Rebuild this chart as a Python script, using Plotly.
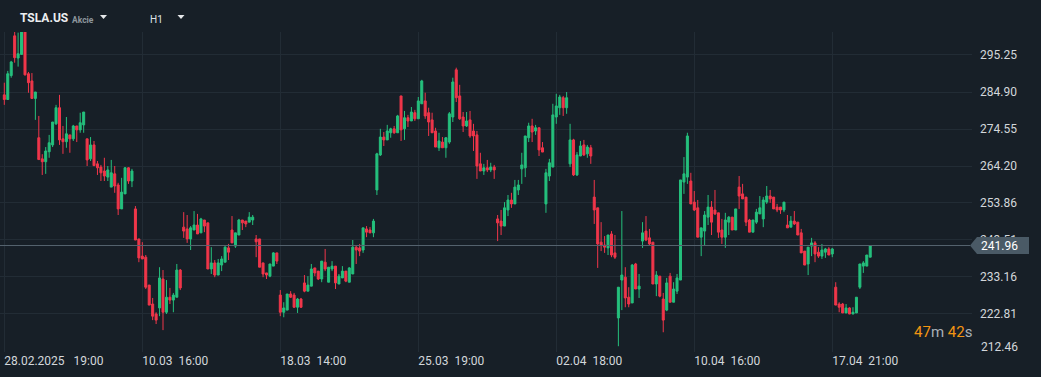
import plotly.graph_objects as go

# ---------------- data ----------------
open_ = [
    284.1, 282.8, 289.5, 300.6, 294.4, 295.4, 302.3, 290.0, 288.0, 283.1,
    272.1, 266.2, 265.4, 268.2, 270.1, 276.0, 280.5, 271.8, 271.0, 272.9,
    271.8, 275.4, 274.3, 275.7, 271.8, 266.2, 270.1, 264.8, 263.9, 262.8,
    261.1, 258.3, 262.0, 258.9, 252.2, 256.4, 263.7, 260.0, 252.2, 243.8,
    239.0, 238.7, 230.9, 225.6, 222.8, 224.5, 232.6, 223.3, 227.5, 226.7,
    227.5, 235.1, 247.1, 246.6, 243.8, 246.3, 247.7, 245.5, 249.1, 248.3,
    235.4, 237.1, 233.7, 236.5, 237.3, 241.3, 246.3, 241.8, 244.9, 249.1,
    248.8, 248.5, 249.1, 243.8, 243.8, 237.1, 234.3, 233.4, 236.2, 239.9,
    228.1, 223.3, 223.9, 228.4, 228.1, 224.7, 227.0, 231.5, 229.2, 230.6,
    235.7, 234.8, 232.6, 237.3, 231.7, 235.4, 236.2, 231.2, 232.9, 234.8,
    231.7, 234.0, 241.5, 241.3, 240.7, 246.6, 246.3, 245.5, 257.5, 267.3,
    272.3, 271.5, 273.5, 274.6, 273.5, 283.8, 274.6, 277.7, 276.8, 279.1,
    277.4, 281.6, 282.4, 279.1, 277.1, 274.0, 269.3, 270.9, 269.3, 270.9,
    277.9, 291.1, 283.8, 277.9, 275.4, 277.1, 274.0, 272.9, 264.8, 262.8,
    263.7, 263.1, 263.9, 249.4, 248.8, 247.4, 251.9, 254.7, 253.6, 257.5,
    263.4, 263.7, 272.1, 275.4, 274.0, 274.9, 269.3, 253.6, 261.4, 263.9,
    277.9, 280.5, 283.3, 280.5, 264.8, 271.5, 261.7, 267.0, 270.1, 267.6,
    269.3, 255.5, 252.5, 242.9, 242.1, 241.3, 245.2, 239.9, 221.7, 232.3,
    233.1, 227.5, 225.9, 236.8, 229.8, 243.2, 246.0, 244.1, 242.9, 231.2,
    233.4, 227.0, 223.9, 233.4, 226.1, 229.2, 232.3, 259.7, 261.1, 260.0,
    254.1, 252.5, 244.3, 246.0, 249.9, 252.7, 251.9, 251.1, 246.3, 244.3,
    248.5, 249.9, 246.3, 258.3, 256.4, 255.5, 249.1, 245.7, 248.5, 250.8,
    249.4, 254.1, 255.8, 255.5, 252.7, 252.7, 251.9, 247.7, 247.1, 248.8,
    248.5, 245.5, 240.4, 236.8, 241.8, 242.7, 240.1, 239.0, 240.1, 241.0,
    239.6, 230.3, 225.6, 225.6, 223.1, 224.5, 222.8, 223.1, 230.3, 236.2,
    236.2, 238.7,
]
high = [
    287.5, 290.8, 293.6, 302.9, 301.5, 303.1, 302.9, 290.5, 290.2, 284.9,
    278.2, 267.5, 269.5, 272.9, 276.5, 281.3, 284.1, 275.4, 277.9, 272.9,
    275.7, 275.4, 279.1, 279.3, 271.8, 272.3, 271.2, 265.6, 264.5, 266.5,
    264.2, 265.9, 264.2, 259.5, 260.9, 263.9, 263.9, 263.4, 253.0, 243.8,
    242.9, 239.3, 230.9, 227.3, 223.3, 235.9, 235.1, 232.3, 230.1, 228.7,
    236.8, 235.4, 251.3, 250.5, 247.4, 251.6, 250.8, 249.7, 249.1, 248.3,
    241.5, 237.9, 238.2, 239.0, 241.8, 242.4, 250.2, 245.5, 249.4, 249.1,
    248.8, 251.3, 250.5, 244.9, 243.8, 237.1, 234.3, 236.8, 240.1, 239.9,
    229.5, 226.1, 228.4, 229.2, 228.7, 227.3, 227.3, 233.7, 233.4, 236.8,
    235.7, 234.8, 237.6, 241.0, 235.9, 237.6, 236.2, 234.0, 236.2, 234.8,
    235.9, 243.5, 242.1, 242.4, 246.9, 247.4, 247.1, 249.4, 267.9, 274.6,
    273.7, 275.7, 274.9, 275.4, 278.5, 283.8, 279.6, 278.5, 280.7, 279.9,
    283.5, 288.3, 284.7, 280.5, 279.1, 274.9, 273.5, 272.3, 272.3, 279.3,
    288.9, 291.7, 286.9, 279.3, 279.3, 279.6, 276.0, 274.0, 267.9, 264.8,
    265.9, 265.1, 264.5, 250.5, 251.9, 254.1, 256.1, 256.7, 260.3, 260.3,
    267.9, 272.6, 276.3, 277.4, 275.7, 274.9, 270.9, 263.4, 266.2, 281.6,
    284.4, 284.1, 283.8, 284.9, 276.0, 271.8, 268.1, 271.2, 271.5, 270.1,
    270.1, 260.3, 252.5, 248.5, 244.6, 244.9, 246.0, 244.9, 230.3, 251.6,
    235.9, 230.3, 236.8, 237.1, 234.0, 248.5, 250.2, 246.6, 242.9, 234.8,
    233.4, 228.7, 232.9, 234.3, 231.7, 234.0, 260.3, 266.7, 273.5, 262.3,
    257.2, 254.7, 246.9, 251.6, 256.1, 254.4, 257.5, 251.1, 249.4, 251.1,
    250.2, 249.9, 252.2, 261.4, 259.2, 255.5, 249.4, 249.1, 252.2, 255.8,
    255.5, 258.6, 257.5, 255.5, 253.6, 252.7, 254.1, 250.5, 250.2, 251.6,
    248.5, 246.6, 240.4, 241.5, 244.1, 243.2, 241.5, 242.4, 241.3, 241.5,
    241.3, 231.7, 226.1, 225.9, 225.6, 224.7, 224.7, 227.5, 236.8, 237.6,
    239.3, 242.1,
]
low = [
    281.3, 282.8, 288.9, 293.1, 292.0, 295.4, 289.5, 284.7, 283.1, 277.1,
    266.0, 261.7, 262.0, 266.5, 269.5, 275.7, 270.1, 267.6, 269.3, 267.9,
    271.2, 270.9, 273.5, 273.5, 264.2, 265.6, 264.3, 261.7, 260.0, 260.0,
    260.0, 258.3, 256.7, 250.5, 252.2, 256.4, 259.2, 258.3, 243.5, 237.3,
    238.2, 229.8, 225.3, 221.1, 220.0, 222.2, 218.3, 222.8, 225.6, 223.3,
    227.5, 229.5, 244.1, 242.7, 240.7, 246.3, 245.2, 245.5, 245.7, 235.4,
    234.0, 233.1, 233.7, 234.8, 237.3, 237.9, 242.7, 241.3, 244.9, 246.3,
    247.1, 248.5, 247.7, 238.7, 235.9, 233.1, 232.6, 233.1, 236.2, 236.8,
    222.2, 221.9, 223.9, 227.3, 224.5, 223.1, 224.5, 228.9, 229.2, 230.6,
    233.4, 232.3, 231.7, 234.8, 231.7, 234.8, 229.8, 231.2, 232.9, 231.7,
    231.7, 234.0, 236.8, 239.0, 239.9, 244.3, 245.5, 244.3, 256.1, 267.0,
    269.8, 271.5, 272.1, 273.2, 273.5, 271.2, 271.5, 275.1, 276.8, 276.8,
    277.4, 281.6, 277.4, 272.6, 273.5, 269.5, 268.4, 269.3, 266.5, 270.4,
    276.5, 282.1, 277.1, 273.7, 275.1, 272.1, 268.4, 260.6, 262.8, 261.7,
    262.5, 262.5, 260.6, 243.2, 244.9, 247.4, 250.2, 252.5, 253.6, 256.1,
    259.2, 261.1, 270.9, 270.9, 272.9, 267.0, 268.1, 251.1, 260.0, 263.9,
    276.0, 278.5, 278.2, 278.8, 263.9, 261.4, 261.4, 267.0, 267.0, 266.5,
    264.8, 248.0, 235.7, 240.4, 239.9, 239.3, 238.7, 238.2, 213.8, 223.9,
    224.7, 224.7, 225.9, 229.8, 227.3, 241.3, 243.2, 242.1, 231.2, 227.8,
    227.5, 217.7, 223.6, 226.1, 226.1, 228.4, 232.3, 256.4, 259.2, 253.6,
    251.6, 244.3, 239.0, 242.1, 247.7, 244.9, 250.5, 244.1, 242.4, 241.3,
    244.9, 246.3, 246.3, 252.2, 255.0, 247.4, 245.7, 245.7, 248.0, 250.8,
    247.1, 253.6, 253.9, 252.2, 251.3, 250.8, 251.3, 246.9, 247.1, 247.7,
    244.9, 239.9, 236.5, 233.7, 239.0, 237.3, 238.5, 238.2, 238.5, 239.3,
    238.7, 225.3, 223.3, 223.1, 223.1, 222.8, 222.8, 223.1, 229.8, 234.3,
    236.2, 238.7,
]
close = [
    282.8, 290.0, 293.3, 294.5, 295.6, 302.3, 289.7, 287.5, 283.1, 284.9,
    266.0, 265.4, 268.4, 270.7, 276.5, 280.5, 271.5, 271.0, 273.2, 271.8,
    275.4, 274.3, 276.3, 279.3, 265.9, 270.1, 264.3, 263.7, 262.3, 261.4,
    263.1, 262.3, 258.6, 252.2, 256.9, 263.7, 260.0, 262.8, 243.5, 238.5,
    238.2, 230.3, 225.3, 222.2, 221.1, 232.9, 223.3, 227.5, 226.7, 228.1,
    235.1, 230.1, 246.0, 243.8, 246.9, 247.7, 245.2, 249.4, 247.4, 235.4,
    237.1, 233.7, 237.1, 238.2, 241.5, 240.1, 242.7, 245.5, 249.1, 248.3,
    248.0, 249.9, 249.9, 243.0, 235.9, 234.0, 233.7, 236.8, 239.9, 237.6,
    223.3, 224.5, 228.4, 227.5, 224.7, 227.0, 224.7, 229.2, 230.9, 235.4,
    234.3, 232.6, 237.6, 235.4, 235.9, 236.2, 231.5, 233.4, 234.8, 232.0,
    235.7, 241.5, 240.7, 240.4, 246.9, 245.7, 245.5, 248.8, 267.6, 272.3,
    271.5, 274.0, 274.6, 273.5, 278.2, 274.3, 277.7, 276.8, 279.3, 277.4,
    282.4, 288.0, 278.2, 276.5, 273.5, 269.5, 271.2, 269.3, 272.1, 278.8,
    287.7, 283.3, 277.4, 275.4, 276.8, 272.6, 272.6, 264.2, 262.8, 263.7,
    263.1, 263.9, 263.1, 248.3, 247.4, 252.5, 254.7, 253.6, 258.3, 258.9,
    264.5, 272.6, 275.4, 273.7, 274.9, 268.7, 268.1, 262.3, 265.1, 278.5,
    281.0, 283.5, 280.5, 283.3, 271.5, 261.7, 267.3, 269.8, 267.3, 269.5,
    267.0, 251.9, 242.4, 242.1, 241.5, 244.9, 239.3, 238.7, 230.3, 233.7,
    227.3, 225.6, 236.5, 229.8, 230.6, 245.5, 243.5, 242.4, 231.2, 233.7,
    227.8, 221.1, 231.5, 226.1, 229.8, 232.9, 260.3, 262.0, 272.6, 253.6,
    251.9, 244.3, 246.9, 250.5, 252.7, 248.5, 250.8, 245.7, 244.3, 249.1,
    249.9, 246.3, 252.2, 255.8, 255.0, 248.5, 245.7, 249.1, 251.3, 252.5,
    254.7, 255.8, 255.0, 252.2, 251.9, 251.9, 254.1, 246.9, 248.8, 248.0,
    244.9, 239.9, 236.5, 241.5, 242.7, 239.6, 239.0, 240.7, 241.0, 239.3,
    241.0, 225.3, 224.7, 223.1, 224.5, 222.8, 223.3, 227.5, 236.8, 237.1,
    239.3, 241.96,
]
bar_index = list(range(len(close)))

time_tick_index = [0, 40, 80, 120, 160, 200, 240]
time_tick_text = ["28.02.2025", "10.03", "18.03", "25.03", "02.04", "10.04", "17.04"]
time_tick_hour = ["19:00", "16:00", "14:00", "19:00", "18:00", "16:00", "21:00"]
price_ticks = [295.25, 284.90, 274.55, 264.20, 253.86, 243.51, 233.16, 222.81, 212.46]
last_price = 241.96
symbol = "TSLA.US"
asset_class = "Akcie"
timeframe = "H1"
countdown_min, countdown_sec = "47", "42"

# ---------------- style ----------------
W, H = 1041, 377
PL, PR, PT, PB = 0, 972, 32, 352   # plot box in pixels
BG = "#171f27"
GRID = "#222c35"
UP = "#25c07d"
DOWN = "#f0364a"
TXT = "#d3d7db"
FONT = "Roboto"
Y_MIN, Y_MAX = 212.18, 301.68
X_MIN, X_MAX = -1.25, 280.5


def px_x(px):
    return (px - PL) / (PR - PL)


def px_y(py):
    return (PB - py) / (PB - PT)


def price_to_paper(p):
    return (p - Y_MIN) / (Y_MAX - Y_MIN)


fig = go.Figure()
fig.add_trace(go.Candlestick(
    x=bar_index, open=open_, high=high, low=low, close=close,
    increasing=dict(line=dict(color=UP, width=1), fillcolor=UP),
    decreasing=dict(line=dict(color=DOWN, width=1), fillcolor=DOWN),
    whiskerwidth=0, hoverinfo="skip", showlegend=False,
))

x_labels = [f"{d}{'\u00a0' * (3 if len(d) > 5 else 2)}{h}" for d, h in zip(time_tick_text, time_tick_hour)]

fig.update_layout(
    width=W, height=H,
    margin=dict(l=PL, r=W - PR, t=PT, b=H - PB, pad=0),
    paper_bgcolor=BG, plot_bgcolor=BG,
    font=dict(family=FONT, size=12, color=TXT),
    boxgap=0.42, boxgroupgap=0,
    showlegend=False,
    xaxis=dict(
        range=[X_MIN, X_MAX], rangeslider=dict(visible=False),
        tickvals=time_tick_index, ticktext=x_labels,
        ticklabelposition="outside right",
        showgrid=True, gridcolor=GRID, gridwidth=1,
        zeroline=False, showline=False, ticks="",
        tickfont=dict(family=FONT, size=12, color=TXT),
        ticklabelstandoff=0,
    ),
    yaxis=dict(
        range=[Y_MIN, Y_MAX], side="right",
        tickvals=price_ticks,
        ticktext=[f"{v:.2f}" if v != price_ticks[-1] else "" for v in price_ticks],
        showgrid=True, gridcolor=GRID, gridwidth=1,
        zeroline=False, showline=False, ticks="",
        tickfont=dict(family=FONT, size=12, color=TXT),
        ticklabelstandoff=7,
    ),
)

shapes = []
# current price line
shapes.append(dict(type="line", xref="paper", yref="y", x0=0, x1=px_x(970),
                   y0=last_price, y1=last_price, line=dict(color="#56646f", width=1),
                   layer="above"))
# price label box with arrow
yc = price_to_paper(last_price)
hh = 8.5 / (PB - PT)
shapes.append(dict(type="path", xref="paper", yref="paper",
                   path=(f"M {px_x(970)},{yc} L {px_x(977)},{yc + hh} L {px_x(1029)},{yc + hh} "
                         f"L {px_x(1029)},{yc - hh} L {px_x(977)},{yc - hh} Z"),
                   fillcolor="#4a5a66", line=dict(width=0), layer="above"))
# header dropdown triangles
for cx in (103.5, 181):
    shapes.append(dict(type="path", xref="paper", yref="paper",
                       path=(f"M {px_x(cx - 3.5)},{px_y(15)} L {px_x(cx + 3.5)},{px_y(15)} "
                             f"L {px_x(cx)},{px_y(19)} Z"),
                       fillcolor="#e6e8ea", line=dict(width=0), layer="above"))
fig.update_layout(shapes=shapes)

ann = []
ann.append(dict(xref="paper", yref="paper", x=px_x(979), y=yc, xanchor="left", yanchor="middle",
                text=f"{last_price:.2f}", showarrow=False,
                font=dict(family=FONT, size=12, color="#ffffff")))
ann.append(dict(xref="paper", yref="paper", x=px_x(979), y=px_y(346.5), xanchor="left",
                yanchor="middle", text=f"{price_ticks[-1]:.2f}", showarrow=False,
                font=dict(family=FONT, size=12, color=TXT)))
ann.append(dict(xref="paper", yref="paper", x=px_x(974), y=px_y(331.5), xanchor="right",
                yanchor="middle", showarrow=False,
                text=(f"<span style='color:#f39512'>{countdown_min}</span>m "
                      f"<span style='color:#f39512'>{countdown_sec}</span>s"),
                font=dict(family=FONT, size=15, color="#a9b0b6")))
ann.append(dict(xref="paper", yref="paper", x=px_x(18), y=px_y(18.5), xanchor="left",
                yanchor="middle", text=f"<b>{symbol}</b>", showarrow=False,
                font=dict(family=FONT, size=12, color="#eceef0")))
ann.append(dict(xref="paper", yref="paper", x=px_x(70), y=px_y(19.5), xanchor="left",
                yanchor="middle", text=f"<b>{asset_class}</b>", showarrow=False,
                font=dict(family=FONT, size=8.5, color="#8d969d")))
ann.append(dict(xref="paper", yref="paper", x=px_x(148), y=px_y(20), xanchor="left",
                yanchor="middle", text=timeframe, showarrow=False,
                font=dict(family=FONT, size=10, color="#dfe2e5")))
fig.update_layout(annotations=ann)

fig.write_html("out.html", config={"displayModeBar": False},
               post_script="document.body.style.margin='0';")
